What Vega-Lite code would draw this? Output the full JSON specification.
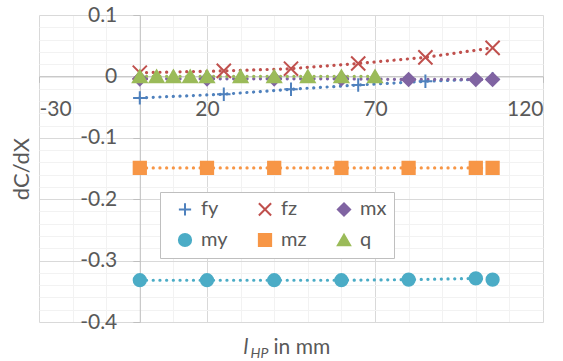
{
  "$schema": "https://vega.github.io/schema/vega-lite/v6.json",
  "width": 504,
  "height": 307,
  "autosize": "none",
  "padding": {"left": 39, "top": 15, "right": 20, "bottom": 39},
  "background": "white",
  "config": {
    "font": "Lato",
    "view": {"stroke": null},
    "axis": {"labelFont": "Lato", "titleFont": "Lato", "labelColor": "#595959", "titleColor": "#595959", "labelFontSize": 21, "titleFontSize": 21, "titleFontWeight": "normal"},
    "legend": {
      "fillColor": "white", "strokeColor": "#BFBFBF", "padding": 7,
      "labelFont": "Lato", "labelFontSize": 20, "labelColor": "#595959", "labelOffset": 6,
      "symbolSize": 150, "symbolStrokeWidth": 2, "columnPadding": 26, "rowPadding": 9,
      "titleOrient": "left", "titleFontSize": 4, "titlePadding": 8
    }
  },
  "data": {"values": [
    {"series": "fy", "x": 0, "y": -0.035},
    {"series": "fy", "x": 25, "y": -0.029},
    {"series": "fy", "x": 45, "y": -0.021},
    {"series": "fy", "x": 65, "y": -0.014},
    {"series": "fy", "x": 85, "y": -0.008},
    {"series": "fy", "x": 105, "y": -0.004},
    {"series": "fz", "x": 0, "y": 0.006},
    {"series": "fz", "x": 25, "y": 0.009},
    {"series": "fz", "x": 45, "y": 0.0125},
    {"series": "fz", "x": 65, "y": 0.021},
    {"series": "fz", "x": 85, "y": 0.031},
    {"series": "fz", "x": 105, "y": 0.0465},
    {"series": "mx", "x": 0, "y": -0.004},
    {"series": "mx", "x": 20, "y": -0.004},
    {"series": "mx", "x": 40, "y": -0.004},
    {"series": "mx", "x": 60, "y": -0.004},
    {"series": "mx", "x": 80, "y": -0.005},
    {"series": "mx", "x": 100, "y": -0.005},
    {"series": "mx", "x": 105, "y": -0.005},
    {"series": "my", "x": 0, "y": -0.332},
    {"series": "my", "x": 20, "y": -0.332},
    {"series": "my", "x": 40, "y": -0.332},
    {"series": "my", "x": 60, "y": -0.332},
    {"series": "my", "x": 80, "y": -0.331},
    {"series": "my", "x": 100, "y": -0.329},
    {"series": "my", "x": 105, "y": -0.331},
    {"series": "mz", "x": 0, "y": -0.149},
    {"series": "mz", "x": 20, "y": -0.149},
    {"series": "mz", "x": 40, "y": -0.149},
    {"series": "mz", "x": 60, "y": -0.149},
    {"series": "mz", "x": 80, "y": -0.149},
    {"series": "mz", "x": 100, "y": -0.149},
    {"series": "mz", "x": 105, "y": -0.149},
    {"series": "q", "x": 0, "y": 0},
    {"series": "q", "x": 5, "y": 0},
    {"series": "q", "x": 10, "y": 0},
    {"series": "q", "x": 15, "y": 0},
    {"series": "q", "x": 20, "y": 0},
    {"series": "q", "x": 30, "y": 0},
    {"series": "q", "x": 40, "y": 0},
    {"series": "q", "x": 50, "y": 0},
    {"series": "q", "x": 60, "y": 0},
    {"series": "q", "x": 70, "y": 0}
  ]},
  "layer": [
    {
      "mark": {"type": "line", "strokeWidth": 3.2, "strokeCap": "round", "strokeDash": [0.1, 6.6]},
      "encoding": {
        "x": {"field": "x", "type": "quantitative", "scale": {"domain": [-30, 120], "nice": false, "zero": false},
          "axis": {"orient": "bottom", "values": [-20, -10, 0, 10, 30, 40, 50, 60, 80, 90, 100, 110], "grid": true, "gridColor": "#F2F2F2", "gridWidth": 1, "labels": false, "ticks": false, "domain": false,
            "title": "in mm", "titleX": 234, "titleY": 31, "titleAlign": "left", "titleBaseline": "alphabetic", "titleAnchor": null, "zindex": 0}},
        "y": {"field": "y", "type": "quantitative", "scale": {"domain": [-0.4, 0.1], "nice": false, "zero": false},
          "axis": {"orient": "left", "values": [0.08, 0.06, 0.04, 0.02, -0.02, -0.04, -0.06, -0.08, -0.12, -0.14, -0.16, -0.18, -0.22, -0.24, -0.26, -0.28, -0.32, -0.34, -0.36, -0.38], "grid": true, "gridColor": "#F2F2F2", "gridWidth": 1, "labels": false, "ticks": false, "domain": false,
            "title": "HP", "titleFontStyle": "italic", "titleFontSize": 14, "titleAngle": 0, "titleX": 211, "titleY": 342.5, "titleAlign": "left", "titleBaseline": "alphabetic", "titleAnchor": null, "zindex": 0}},
        "color": {"field": "series", "type": "nominal", "scale": {"domain": ["q", "mz", "my", "mx", "fz", "fy"], "range": ["#9BBB59", "#F79646", "#4BACC6", "#8064A2", "#C0504D", "#4F81BD"]}, "legend": null}
      }
    },
    {
      "mark": {"type": "point", "filled": true, "opacity": 1, "strokeWidth": 2},
      "encoding": {
        "x": {"field": "x", "type": "quantitative",
          "axis": {"orient": "bottom", "values": [-30, 20, 70, 120], "grid": true, "gridColor": "#D9D9D9", "domain": true, "domainColor": "#BFBFBF", "ticks": true, "tickColor": "#BFBFBF", "tickSize": 6, "labelPadding": 16, "offset": -245.6,
            "labelExpr": "replace(format(datum.value, 'd'), '\u2212', '-')",
            "title": "l", "titleFontStyle": "italic", "titleX": 204, "titleY": 276.6, "titleAlign": "left", "titleBaseline": "alphabetic", "titleAnchor": null, "zindex": 0}},
        "y": {"field": "y", "type": "quantitative",
          "axis": {"orient": "left", "values": [0.1, 0, -0.1, -0.2, -0.3, -0.4], "grid": true, "gridColor": "#D9D9D9", "domain": true, "domainColor": "#BFBFBF", "ticks": true, "tickColor": "#BFBFBF", "tickSize": 7, "labelPadding": 16, "offset": -100.8,
            "labelExpr": "replace(format(datum.value, '.1~f'), '\u2212', '-')",
            "title": "dC/dX", "titleFontSize": 22, "titleAngle": 270, "titleX": -118, "titleY": 153.5, "titleAlign": "center", "titleBaseline": "middle", "titleAnchor": null, "zindex": 0}},
        "size": {"field": "series", "type": "nominal", "scale": {"type": "ordinal", "domain": ["q", "mz", "my", "mx", "fz", "fy"], "range": [190, 150, 150, 165, 200, 180]}, "legend": null},
        "shape": {"field": "series", "type": "nominal", "scale": {"domain": ["fy", "fz", "mx", "my", "mz", "q"], "range": ["M-1,0H1M0,-1V1", "M-1,-1L1,1M-1,1L1,-1", "diamond", "circle", "square", "triangle-up"]},
          "legend": {"title": "\u00a0", "orient": "none", "legendX": 121, "legendY": 177, "columns": 3, "direction": "horizontal", "labelExpr": "datum.label + '\u00a0\u00a0\u00a0\u00a0\u00a0\u00a0'"}},
        "fill": {"field": "series", "type": "nominal", "scale": {"domain": ["fy", "fz", "mx", "my", "mz", "q"], "range": ["#4F81BD", "#C0504D", "#8064A2", "#4BACC6", "#F79646", "#9BBB59"]},
          "legend": {"title": "\u00a0", "orient": "none", "legendX": 121, "legendY": 177, "columns": 3, "direction": "horizontal", "labelExpr": "datum.label + '\u00a0\u00a0\u00a0\u00a0\u00a0\u00a0'"}},
        "stroke": {"field": "series", "type": "nominal", "scale": {"domain": ["fy", "fz", "mx", "my", "mz", "q"], "range": ["#4F81BD", "#C0504D", "#8064A2", "#4BACC6", "#F79646", "#9BBB59"]},
          "legend": {"title": "\u00a0", "orient": "none", "legendX": 121, "legendY": 177, "columns": 3, "direction": "horizontal", "labelExpr": "datum.label + '\u00a0\u00a0\u00a0\u00a0\u00a0\u00a0'"}}
      }
    }
  ],
  "resolve": {"axis": {"x": "independent", "y": "independent"}}
}
